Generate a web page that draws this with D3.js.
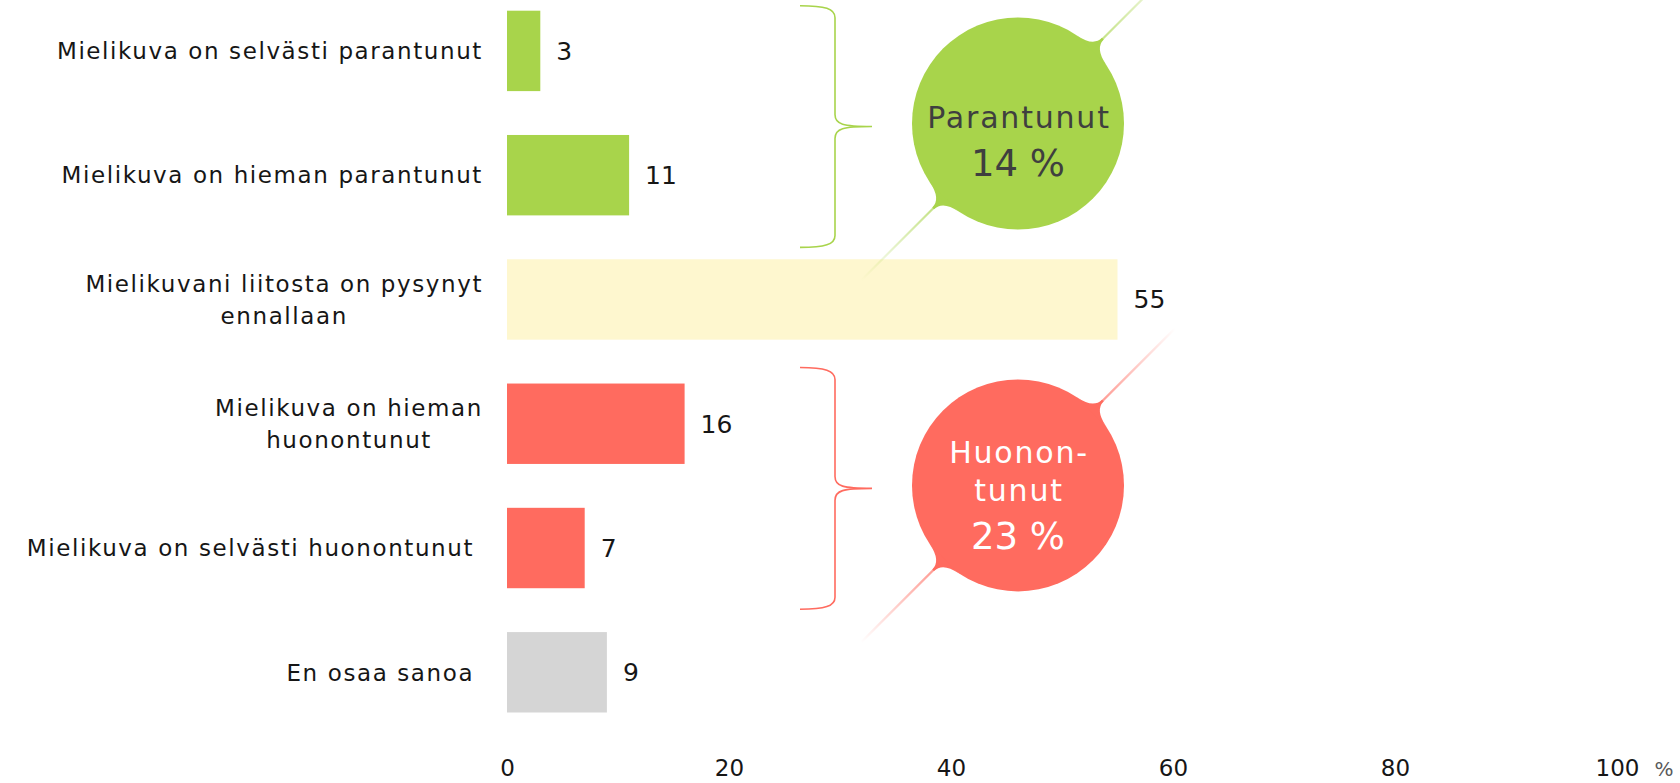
<!DOCTYPE html>
<html>
<head>
<meta charset="utf-8">
<script src="https://cdn.jsdelivr.net/npm/d3@7"></script>
<style>
  html, body { margin: 0; padding: 0; background: #fff; }
  svg { display: block; font-family: "DejaVu Sans", sans-serif; }
</style>
</head>
<body>
<svg id="chart" width="1680" height="783"></svg>
<script>
// data
const categories = [
  ["Mielikuva on selvästi parantunut"],
  ["Mielikuva on hieman parantunut"],
  ["Mielikuvani liitosta on pysynyt", "ennallaan"],
  ["Mielikuva on hieman", "huonontunut"],
  ["Mielikuva on selvästi huonontunut "],
  ["En osaa sanoa "]
];
const values = [3, 11, 55, 16, 7, 9];
const barColors = ["#a8d44b", "#a8d44b", "#fef7cf", "#ff6b5f", "#ff6b5f", "#d5d5d5"];
const ticks = [0, 20, 40, 60, 80, 100];

// grouped summary bubbles
const groupLabels = [["Parantunut"], ["Huonon-", "tunut"]];
const groupMembers = [[0, 1], [3, 4]];
const groupColors = ["#a8d44b", "#ff6b5f"];
const groupTextColors = ["#3f3f3f", "#ffffff"];

const svg = d3.select("#chart");

const x = d3.scaleLinear().domain([0, 100]).range([507, 1617]);
const y = d3.scaleBand()
  .domain(d3.range(categories.length))
  .range([10.7, 712.5])
  .paddingInner(0.353)
  .paddingOuter(0);
const bw = y.bandwidth();

// bars
svg.append("g").selectAll("rect")
  .data(values)
  .join("rect")
  .attr("x", x(0))
  .attr("y", (d, i) => y(i))
  .attr("width", d => x(d) - x(0))
  .attr("height", bw)
  .attr("fill", (d, i) => barColors[i]);

// value labels
svg.append("g").selectAll("text")
  .data(values)
  .join("text")
  .attr("x", d => x(d) + 16)
  .attr("y", (d, i) => y(i) + bw / 2)
  .attr("dy", "0.36em")
  .attr("font-size", 25)
  .attr("fill", "#161616")
  .text(d => d);

// category labels (multi-line blocks centred, block right-aligned)
const labelRight = 483;
const lab = svg.append("g")
  .attr("font-size", 23)
  .attr("letter-spacing", 1.6)
  .attr("fill", "#161616");
categories.forEach((lines, i) => {
  const cy = y(i) + bw / 2;
  const lh = 32;
  const t = lab.append("text").attr("text-anchor", "middle").style("white-space", "pre");
  lines.forEach((ln, k) => {
    t.append("tspan")
      .attr("x", 0)
      .attr("y", cy + (k - (lines.length - 1) / 2) * lh)
      .attr("dy", "0.36em")
      .text(ln);
  });
  const bb = t.node().getBBox();
  t.attr("transform", `translate(${labelRight - bb.width / 2},0)`);
});

// x axis labels
const axis = svg.append("g")
  .attr("transform", "translate(0,768)")
  .call(d3.axisBottom(x).tickValues(ticks).tickSize(0).tickPadding(0));
axis.select(".domain").remove();
axis.selectAll("text")
  .attr("dy", "0.36em")
  .attr("font-family", "DejaVu Sans, sans-serif")
  .attr("font-size", 23)
  .attr("fill", "#161616");
svg.append("text")
  .attr("x", 1664).attr("y", 769)
  .attr("dy", "0.36em")
  .attr("text-anchor", "middle")
  .attr("font-size", 20)
  .attr("fill", "#5a5a5a")
  .text("%");

// annotation: braces + bubbles
const defs = svg.append("defs");
const braceX = [800, 835, 872];
const bracePad = [[5, 32], [16, 21]];
const bubbleX = 1018, bubbleR = 106;

groupMembers.forEach((m, gi) => {
  const col = groupColors[gi];
  const top = y(m[0]) - bracePad[gi][0];
  const bot = y(m[m.length - 1]) + bw + bracePad[gi][1];
  const mid = (top + bot) / 2;
  const [bx0, bx1, bx2] = braceX;

  // brace
  const p = d3.path();
  p.moveTo(bx0, top);
  p.bezierCurveTo(bx0 + 25, top, bx1, top + 3, bx1, top + 12);
  p.lineTo(bx1, mid - 12);
  p.bezierCurveTo(bx1, mid - 2, bx1 + 8, mid, bx2, mid);
  p.bezierCurveTo(bx1 + 8, mid, bx1, mid + 2, bx1, mid + 12);
  p.lineTo(bx1, bot - 12);
  p.bezierCurveTo(bx1, bot - 3, bx0 + 25, bot, bx0, bot);
  svg.append("path")
    .attr("d", p.toString())
    .attr("fill", "none")
    .attr("stroke", col)
    .attr("stroke-width", 1.6);

  const cx = bubbleX, cy = mid - 3;
  const L = 222;
  const x1 = cx - L * Math.SQRT1_2, y1 = cy + L * Math.SQRT1_2;
  const x2 = cx + L * Math.SQRT1_2, y2 = cy - L * Math.SQRT1_2;

  // fading diagonal line
  const gid = "lg" + gi;
  const lg = defs.append("linearGradient").attr("id", gid)
    .attr("gradientUnits", "userSpaceOnUse")
    .attr("x1", x1).attr("y1", y1).attr("x2", x2).attr("y2", y2);
  [[0, 0], [0.35, 1], [0.65, 1], [1, 0]].forEach(([o, a]) =>
    lg.append("stop").attr("offset", o).attr("stop-color", col).attr("stop-opacity", a));
  svg.append("line")
    .attr("x1", x1).attr("y1", y1).attr("x2", x2).attr("y2", y2)
    .attr("stroke", `url(#${gid})`)
    .attr("stroke-width", 2.2);

  // bubble + concave necks where the line leaves it
  const bg = svg.append("g").attr("transform", `translate(${cx},${cy})`);
  bg.append("circle").attr("r", bubbleR).attr("fill", col);
  const dl = 11 * Math.PI / 180, tipU = bubbleR + 14, hw = 1.2;
  const pu = bubbleR * Math.cos(dl), pv = bubbleR * Math.sin(dl);
  const cu = pu + ((pv - hw) / Math.cos(dl)) * Math.sin(dl);
  const neck = `M${pu},${pv} Q${cu},${hw} ${tipU},${hw} L${tipU},${-hw} Q${cu},${-hw} ${pu},${-pv} Z`;
  [-45, 135].forEach(a => {
    bg.append("path").attr("d", neck).attr("fill", col).attr("transform", `rotate(${a})`);
  });

  // bubble text
  const total = d3.sum(m, k => values[k]);
  const lines = groupLabels[gi];
  const tc = groupTextColors[gi];
  const firstBase = cy + 4 - (lines.length - 1) * 26;
  lines.forEach((ln, k) => {
    svg.append("text")
      .attr("x", cx + 1).attr("y", firstBase + k * 38)
      .attr("text-anchor", "middle")
      .attr("font-size", 30)
      .attr("letter-spacing", 1.8)
      .attr("fill", tc)
      .text(ln);
  });
  svg.append("text")
    .attr("x", cx).attr("y", firstBase + (lines.length - 1) * 38 + 48)
    .attr("text-anchor", "middle")
    .attr("font-size", 37)
    .attr("fill", tc)
    .text(total + " %");
});
</script>
</body>
</html>
